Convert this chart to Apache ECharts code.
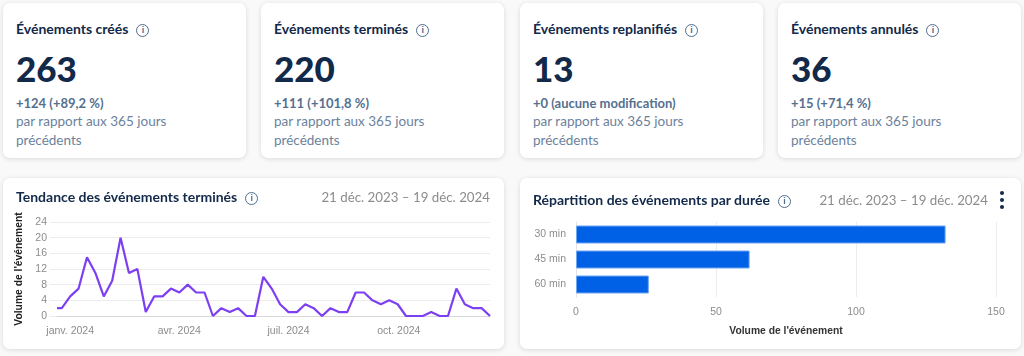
<!DOCTYPE html>
<html>
<head>
    <meta charset="utf-8">
    <title>Événements</title>
    <script src="https://cdn.jsdelivr.net/npm/echarts@6/dist/echarts.min.js"></script>
    <style>
        * { margin: 0; padding: 0; box-sizing: border-box; }
        body { width: 1024px; height: 356px; background: #f9f9f9; font-family: Lato, "Open Sans", sans-serif; overflow: hidden; position: relative; }
        .card { position: absolute; background: #fff; border-radius: 7px; box-shadow: 0 1px 5px rgba(0,0,0,.13); }
        .kpi { top: 3px; width: 243px; height: 155px; }
        .kpi .t { position: absolute; left: 13px; top: 17px; font-size: 14px; font-weight: 700; color: #12294a; white-space: nowrap; }
        .kpi .n { position: absolute; left: 13px; top: 45px; font-size: 35px; line-height: 40px; font-weight: 900; color: #12294a; }
        .kpi .d { position: absolute; left: 13px; top: 92px; font-size: 13px; font-weight: 700; color: #55708f; white-space: nowrap; }
        .kpi .s { position: absolute; left: 13px; top: 109px; width: 175px; font-size: 13.5px; line-height: 19px; color: #6c829c; }
        .i { display: inline-block; width: 13px; height: 13px; margin-left: 8px; vertical-align: 1px; border: 1.2px solid #4f6d90; border-radius: 50%; color: #4f6d90; font: 700 9px/11px "Liberation Sans", sans-serif; text-align: center; }
        .panel { top: 178px; width: 501px; height: 171px; }
        .chart { position: absolute; left: 0; top: 0; width: 501px; height: 171px; }
        .h { position: absolute; font-size: 14px; font-weight: 700; color: #12294a; white-space: nowrap; z-index: 2; }
        .r { position: absolute; font-size: 13.3px; color: #8c8c8c; white-space: nowrap; z-index: 2; }
        .dots { position: absolute; left: 480px; top: 13px; width: 4px; z-index: 2; }
        .dots b { display: block; width: 4px; height: 4px; margin-bottom: 3px; border-radius: 50%; background: #12294a; }
    </style>
</head>
<body>
    <div id="cards"></div>

    <div class="card panel" style="left:3px">
        <div class="h" style="left:13px;top:10px">Tendance des événements terminés<span class="i">i</span></div>
        <div class="r" style="right:14px;top:11px">21 déc. 2023 – 19 déc. 2024</div>
        <div id="trend" class="chart"></div>
    </div>
    <div class="card panel" style="left:520px">
        <div class="h" style="left:13px;top:13px">Répartition des événements par durée<span class="i">i</span></div>
        <div class="r" style="right:33px;top:14px">21 déc. 2023 – 19 déc. 2024</div>
        <div class="dots"><b></b><b></b><b></b></div>
        <div id="duree" class="chart"></div>
    </div>

    <script type="text/javascript">
        var kpiTitres = ['Événements créés', 'Événements terminés', 'Événements replanifiés', 'Événements annulés'];
        var kpiValeurs = ['263', '220', '13', '36'];
        var kpiDeltas = ['+124 (+89,2 %)', '+111 (+101,8 %)', '+0 (aucune modification)', '+15 (+71,4 %)'];
        var kpiLeft = [3, 261, 520, 778];

        var semaines = [
            '2023-12-21', '2023-12-25', '2024-01-01', '2024-01-08', '2024-01-15', '2024-01-22', '2024-01-29',
            '2024-02-05', '2024-02-12', '2024-02-19', '2024-02-26', '2024-03-04', '2024-03-11', '2024-03-18',
            '2024-03-25', '2024-04-01', '2024-04-08', '2024-04-15', '2024-04-22', '2024-04-29', '2024-05-06',
            '2024-05-13', '2024-05-20', '2024-05-27', '2024-06-03', '2024-06-10', '2024-06-17', '2024-06-24',
            '2024-07-01', '2024-07-08', '2024-07-15', '2024-07-22', '2024-07-29', '2024-08-05', '2024-08-12',
            '2024-08-19', '2024-08-26', '2024-09-02', '2024-09-09', '2024-09-16', '2024-09-23', '2024-09-30',
            '2024-10-07', '2024-10-14', '2024-10-21', '2024-10-28', '2024-11-04', '2024-11-11', '2024-11-18',
            '2024-11-25', '2024-12-02', '2024-12-09', '2024-12-16'
        ];
        var termines = [
            2, 2, 5, 7, 15, 11, 5, 9, 20, 11, 12, 1, 5, 5, 7, 6, 8, 6, 6, 0,
            2, 1, 2, 0, 0, 10, 7, 3, 1, 1, 3, 2, 0, 2, 1, 1, 6, 6, 4, 3,
            4, 3, 0, 0, 0, 1, 0, 0, 7, 3, 2, 2, 0
        ];
        var moisTicks = ['2024-01-01', '2024-04-01', '2024-07-01', '2024-10-01'];
        var moisLabels = ['janv. 2024', 'avr. 2024', 'juil. 2024', 'oct. 2024'];

        var durees = ['30 min', '45 min', '60 min'];
        var dureeValeurs = [132, 62, 26];

        var html = '';
        for (var i = 0; i < kpiTitres.length; i++) {
            html += '<div class="card kpi" style="left:' + kpiLeft[i] + 'px">' +
                '<div class="t">' + kpiTitres[i] + '<span class="i">i</span></div>' +
                '<div class="n">' + kpiValeurs[i] + '</div>' +
                '<div class="d">' + kpiDeltas[i] + '</div>' +
                '<div class="s">par rapport aux 365 jours précédents</div></div>';
        }
        document.getElementById('cards').innerHTML = html;

        function ts(s) {
            var p = s.split('-');
            return new Date(+p[0], +p[1] - 1, +p[2]).getTime();
        }

        var labelFont = '"Liberation Sans", Arial, sans-serif';
        var trend = echarts.init(document.getElementById('trend'));
        // axe "value" en ms : customValues plante sur un axe "time"
        trend.setOption({
            animation: false,
            grid: { left: 54, right: 14, top: 44, bottom: 33 },
            xAxis: {
                type: 'value',
                min: ts(semaines[0]),
                max: ts(semaines[semaines.length - 1]),
                axisLine: { lineStyle: { color: '#d8d8d8' } },
                axisTick: { show: false },
                splitLine: { show: false },
                axisLabel: {
                    customValues: moisTicks.map(ts),
                    formatter: function (v) {
                        return moisLabels[moisTicks.map(ts).indexOf(v)] || '';
                    },
                    color: '#8c8c8c', fontSize: 10.5, fontFamily: labelFont, margin: 10, hideOverlap: false
                }
            },
            yAxis: {
                type: 'value',
                min: 0,
                max: 24,
                interval: 4,
                name: "Volume de l'événement",
                nameLocation: 'middle',
                nameGap: 28,
                nameTextStyle: { color: '#222', fontSize: 10.3, fontWeight: 'bold', fontFamily: labelFont },
                axisLine: { show: false },
                axisTick: { show: true, length: 7, lineStyle: { color: '#ececec' } },
                splitLine: { lineStyle: { color: '#ececec' } },
                axisLabel: { color: '#8c8c8c', fontSize: 10.5, fontFamily: labelFont, margin: 10 }
            },
            series: [{
                type: 'line',
                data: semaines.map(function (d, k) { return [ts(d), termines[k]]; }),
                symbol: 'none',
                lineStyle: { color: '#7c3ff2', width: 2.2 }
            }]
        });

        var duree = echarts.init(document.getElementById('duree'));
        duree.setOption({
            animation: false,
            grid: { left: 56, right: 25, top: 44, bottom: 52 },
            xAxis: {
                type: 'value',
                min: 0,
                max: 150,
                interval: 50,
                name: "Volume de l'événement",
                nameLocation: 'middle',
                nameGap: 29,
                nameTextStyle: { color: '#333', fontSize: 10.3, fontWeight: 'bold', fontFamily: labelFont },
                axisLine: { show: false },
                axisTick: { show: false },
                splitLine: { lineStyle: { color: '#ececec' } },
                axisLabel: { color: '#8c8c8c', fontSize: 10.5, fontFamily: labelFont, margin: 10 }
            },
            yAxis: {
                type: 'category',
                inverse: true,
                data: durees,
                axisLine: { lineStyle: { color: '#e4e4e4' } },
                axisTick: { show: false },
                axisLabel: { color: '#8c8c8c', fontSize: 10.5, fontFamily: labelFont, margin: 10 }
            },
            series: [{
                type: 'bar',
                data: dureeValeurs,
                barWidth: 18,
                itemStyle: { color: '#0060e6', borderColor: '#6ea6f2', borderWidth: 1 }
            }]
        });
    </script>
</body>
</html>
